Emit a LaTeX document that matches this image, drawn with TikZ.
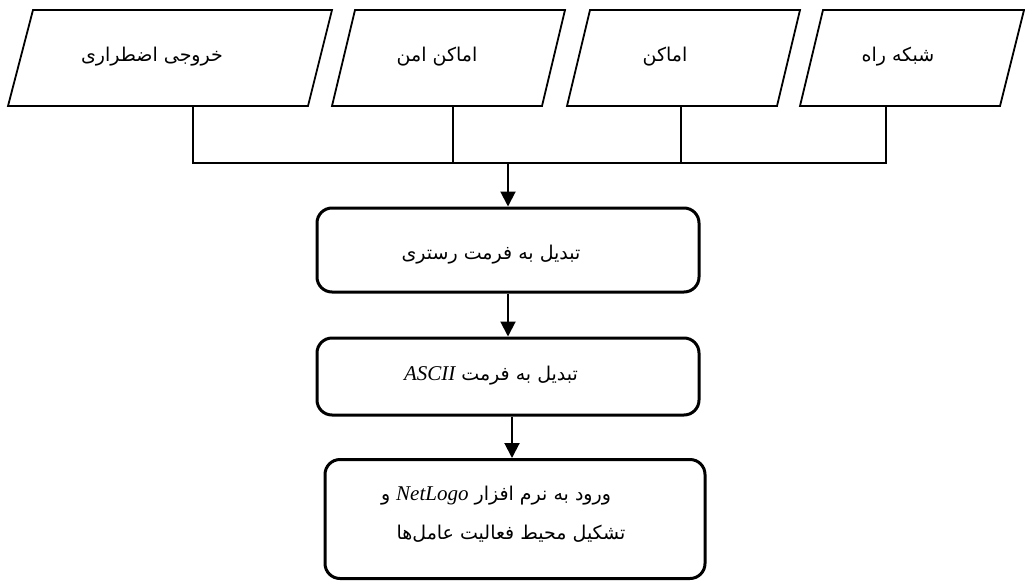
\documentclass[tikz,border=0pt]{standalone}
\usepackage{fontspec}
\setmainfont{Liberation Serif}
\newfontfamily\arabicfont[Script=Arabic]{DejaVu Sans}
\TeXXeTstate=1
\usetikzlibrary{arrows.meta}
\tikzset{
  para/.style={draw=black, line width=1.8pt, line join=miter},
  conn/.style={draw=black, line width=1.3pt},
  arr/.style={draw=black, line width=2pt, -{Triangle[length=15pt,width=15pt]}},
  procbox/.style={draw=black, line width=3pt, rounded corners=15pt, minimum width=382pt, inner sep=0pt},
  fa/.style={font=\arabicfont\fontsize{19}{22}\selectfont, inner sep=0pt},
}
\newcommand{\lat}[1]{\beginL{\rmfamily\itshape\fontsize{21}{24}\selectfont #1}\endL}
\begin{document}
\begin{tikzpicture}[x=1pt,y=-1pt]
\useasboundingbox (0,0) rectangle (1025,581);
% input parallelograms
\draw[para] (33,10) -- (332,10) -- (308,106) -- (8,106) -- cycle;
\draw[para] (355,10) -- (565,10) -- (542,106) -- (332,106) -- cycle;
\draw[para] (590,10) -- (800,10) -- (777,106) -- (567,106) -- cycle;
\draw[para] (823,10) -- (1024,10) -- (1000,106) -- (800,106) -- cycle;
\node[fa] (p1) at (152,57) {\beginR خروجی اضطراری\endR};
\node[fa] (p2) at (437,57) {\beginR اماکن امن\endR};
\node[fa] (p3) at (665,57) {\beginR اماکن\endR};
\node[fa] (p4) at (898,57) {\beginR شبکه راه\endR};
% stubs and bus
\coordinate (s1) at (193,106);
\coordinate (s2) at (453,106);
\coordinate (s3) at (681,106);
\coordinate (s4) at (886,106);
\coordinate (j1) at (193,163);
\coordinate (j2) at (453,163);
\coordinate (j3) at (681,163);
\coordinate (j4) at (886,163);
\coordinate (j0) at (508,163);
\draw[conn] (s1) -- (j1) -- (j4) -- (s4);
\draw[conn] (s2) -- (j2);
\draw[conn] (s3) -- (j3);
% process boxes
\node[procbox, minimum height=84pt] (b1) at (508,250) {};
\node[procbox, minimum height=77pt] (b2) at (508,376.5) {};
\node[procbox, minimum width=380pt, minimum height=119pt] (b3) at (515,519) {};
\node[fa] (t1) at (491,255) {\beginR تبدیل به فرمت رستری\endR};
\node[fa] (t2) at (491,376) {\beginR تبدیل به فرمت \lat{ASCII}\endR};
\node[fa] (t3a) at (496,496) {\beginR ورود به نرم افزار \lat{NetLogo} و\endR};
\node[fa] (t3b) at (511,534) {\beginR تشکیل محیط فعالیت عامل‌ها\endR};
% arrows
\draw[arr] (j0) -- (b1.north);
\draw[arr] (b1.south) -- (b2.north);
\draw[arr] ([xshift=4pt]b2.south) -- ([xshift=4pt]b2.south |- b3.north);
\end{tikzpicture}
\end{document}
